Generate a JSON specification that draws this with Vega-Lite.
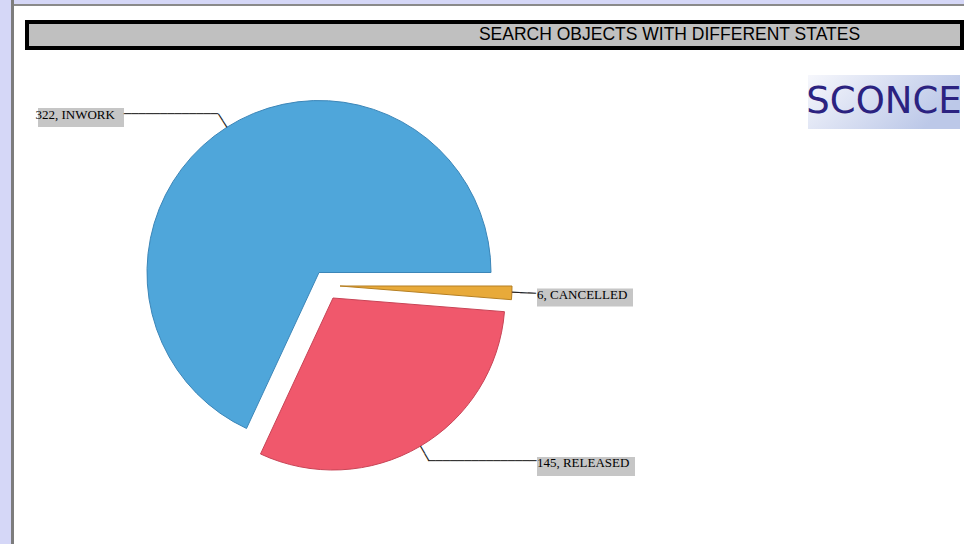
{
  "$schema": "https://vega.github.io/schema/vega-lite/v6.json",
  "background": "white",
  "padding": 0,
  "spacing": 0,
  "config": {"view": {"stroke": null}, "concat": {"spacing": 0}},
  "datasets": {
    "states": [
      {"state": "INWORK", "count": 322},
      {"state": "RELEASED", "count": 145},
      {"state": "CANCELLED", "count": 6}
    ],
    "blank": [{}]
  },
  "hconcat": [
    {"width": 11, "height": 544, "view": {"fill": "#d5d7f7"}, "data": {"name": "blank"}, "mark": {"type": "point", "size": 0, "filled": true, "strokeWidth": 0}},
    {"width": 3, "height": 544, "view": {"fill": "#7d7d7d"}, "data": {"name": "blank"}, "mark": {"type": "point", "size": 0, "filled": true, "strokeWidth": 0}},
    {
      "spacing": 0,
      "vconcat": [
        {"width": 950, "height": 4, "view": {"fill": "#d5d7f7"}, "data": {"name": "blank"}, "mark": {"type": "point", "size": 0, "filled": true, "strokeWidth": 0}},
        {"width": 950, "height": 2, "view": {"fill": "#8a8a8a"}, "data": {"name": "blank"}, "mark": {"type": "point", "size": 0, "filled": true, "strokeWidth": 0}},
        {"width": 950, "height": 14, "data": {"name": "blank"}, "mark": {"type": "point", "size": 0, "filled": true, "strokeWidth": 0}},
        {
          "spacing": 0,
          "hconcat": [
            {"width": 11, "height": 30, "data": {"name": "blank"}, "mark": {"type": "point", "size": 0, "filled": true, "strokeWidth": 0}},
            {
              "width": 935,
              "height": 26,
              "view": {"fill": "#c0c0c0", "stroke": "#000000", "strokeWidth": 4},
              "data": {"name": "blank"},
              "mark": {"type": "text", "text": "SEARCH OBJECTS WITH DIFFERENT STATES", "font": "Liberation Sans", "fontSize": 17.5, "color": "#000000", "baseline": "middle", "dx": 175}
            }
          ]
        },
        {
          "width": 950,
          "height": 494,
          "layer": [
            {
              "data": {"name": "blank"},
              "mark": {"type": "point", "shape": "M-1,-0.3553H1V0.3553H-1Z", "size": 23104, "filled": true, "strokeWidth": 0, "opacity": 1, "xOffset": 395, "yOffset": -197,
                "fill": {"gradient": "linear", "x1": 0, "y1": 0, "x2": 1, "y2": 0.4, "stops": [{"offset": 0, "color": "#f6f7fc"}, {"offset": 1, "color": "#bcc8e8"}]}}
            },
            {
              "data": {"name": "blank"},
              "mark": {"type": "text", "text": "SCONCE", "font": "DejaVu Sans", "fontSize": 37, "fill": "#2b2280", "baseline": "middle", "xOffset": 395, "yOffset": -197}
            },
            {
              "data": {"name": "blank"},
              "mark": {"type": "point", "shape": "M-1,-0.2209H1V0.2209H-1Z", "size": 7396, "filled": true, "strokeWidth": 0, "opacity": 1, "fill": "#c6c6c6", "xOffset": -408, "yOffset": -181.5}
            },
            {
              "data": {"name": "blank"},
              "mark": {"type": "point", "shape": "M-1,-0.1875H1V0.1875H-1Z", "size": 9216, "filled": true, "strokeWidth": 0, "opacity": 1, "fill": "#c6c6c6", "xOffset": 96, "yOffset": -1.5}
            },
            {
              "data": {"name": "blank"},
              "mark": {"type": "point", "shape": "M-1,-0.1939H1V0.1939H-1Z", "size": 9604, "filled": true, "strokeWidth": 0, "opacity": 1, "fill": "#c6c6c6", "xOffset": 97, "yOffset": 167.5}
            },
            {
              "data": {"name": "states"},
              "transform": [{"calculate": "datum.count + ', ' + datum.state", "as": "label"}],
              "encoding": {
                "theta": {"field": "count", "type": "quantitative", "stack": true, "scale": {"range": [1.5707963, 7.8539816]}},
                "order": {"field": "count", "sort": "ascending"}
              },
              "layer": [
                {
                  "mark": {"type": "arc", "outerRadius": 172, "fill": "#4fa6da", "stroke": "#3c86b8", "strokeWidth": 1, "xOffset": -170, "yOffset": -26.5},
                  "encoding": {"opacity": {"condition": {"test": "datum.state === 'INWORK'", "value": 1}, "value": 0}}
                },
                {
                  "mark": {"type": "arc", "outerRadius": 172, "fill": "#f0586c", "stroke": "#c84456", "strokeWidth": 1, "xOffset": -156, "yOffset": -1},
                  "encoding": {"opacity": {"condition": {"test": "datum.state === 'RELEASED'", "value": 1}, "value": 0}}
                },
                {
                  "mark": {"type": "arc", "outerRadius": 172, "fill": "#e8aa3a", "stroke": "#b57f22", "strokeWidth": 1, "xOffset": -149, "yOffset": -13},
                  "encoding": {"opacity": {"condition": {"test": "datum.state === 'CANCELLED'", "value": 1}, "value": 0}}
                },
                {
                  "mark": {"type": "text", "radius": 180, "angle": 57.5, "align": "center", "baseline": "middle", "font": "DejaVu Sans Mono", "fontSize": 13.3, "text": "──", "fill": "#222222", "xOffset": -170, "yOffset": -26.5},
                  "encoding": {"opacity": {"condition": {"test": "datum.state === 'INWORK'", "value": 1}, "value": 0}}
                },
                {
                  "mark": {"type": "text", "radius": 180.5, "angle": 59.75, "align": "center", "baseline": "middle", "font": "DejaVu Sans Mono", "fontSize": 14.1, "text": "──", "fill": "#222222", "xOffset": -156, "yOffset": -1},
                  "encoding": {"opacity": {"condition": {"test": "datum.state === 'RELEASED'", "value": 1}, "value": 0}}
                },
                {
                  "mark": {"type": "text", "radius": 184, "angle": 2.28, "align": "center", "baseline": "middle", "font": "DejaVu Sans Mono", "fontSize": 13.3, "text": "───", "fill": "#222222", "xOffset": -149, "yOffset": -13},
                  "encoding": {"opacity": {"condition": {"test": "datum.state === 'CANCELLED'", "value": 1}, "value": 0}}
                },
                {
                  "mark": {"type": "text", "radius": 188, "align": "right", "baseline": "middle", "font": "DejaVu Sans Mono", "fontSize": 12, "text": "─────────────", "fill": "#222222", "xOffset": -170, "yOffset": -26.5},
                  "encoding": {"opacity": {"condition": {"test": "datum.state === 'INWORK'", "value": 1}, "value": 0}}
                },
                {
                  "mark": {"type": "text", "radius": 189, "align": "left", "baseline": "middle", "font": "DejaVu Sans Mono", "fontSize": 12, "text": "───────────────", "fill": "#222222", "xOffset": -156, "yOffset": -1},
                  "encoding": {"opacity": {"condition": {"test": "datum.state === 'RELEASED'", "value": 1}, "value": 0}}
                },
                {
                  "mark": {"type": "text", "radius": 188, "align": "right", "baseline": "middle", "font": "Liberation Serif", "fontSize": 13, "dx": -103, "dy": 1, "fill": "#000000", "xOffset": -170, "yOffset": -26.5},
                  "encoding": {"text": {"field": "label"}, "opacity": {"condition": {"test": "datum.state === 'INWORK'", "value": 1}, "value": 0}}
                },
                {
                  "mark": {"type": "text", "radius": 189, "align": "left", "baseline": "middle", "font": "Liberation Serif", "fontSize": 13, "dx": 108.7, "dy": 1.8, "fill": "#000000", "xOffset": -156, "yOffset": -1},
                  "encoding": {"text": {"field": "label"}, "opacity": {"condition": {"test": "datum.state === 'RELEASED'", "value": 1}, "value": 0}}
                },
                {
                  "mark": {"type": "text", "radius": 197, "align": "left", "baseline": "middle", "font": "Liberation Serif", "fontSize": 13, "dx": 0.2, "dy": 1, "fill": "#000000", "xOffset": -149, "yOffset": -13},
                  "encoding": {"text": {"field": "label"}, "opacity": {"condition": {"test": "datum.state === 'CANCELLED'", "value": 1}, "value": 0}}
                }
              ]
            }
          ]
        }
      ]
    }
  ]
}
